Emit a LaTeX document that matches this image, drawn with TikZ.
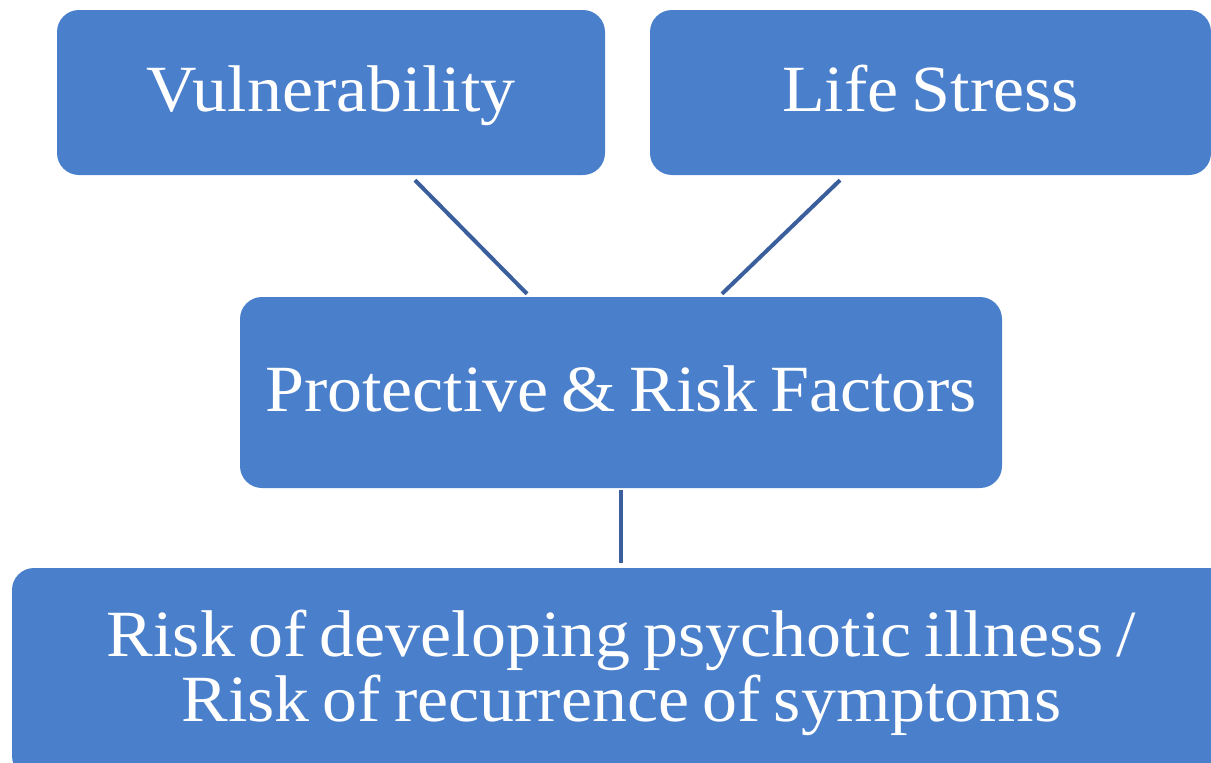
\documentclass[tikz,border=0pt]{standalone}
\usepackage{fontspec}
\setmainfont{Liberation Serif}[FakeStretch=1.06, WordSpace=0.75]
\usetikzlibrary{calc}
\definecolor{boxblue}{HTML}{4A7FCB}
\definecolor{lineblue}{HTML}{3A5F9C}
\tikzset{
  box/.style={draw=none, fill=boxblue, rounded corners=22pt, text=white, inner sep=0pt,
    font=\fontsize{66}{65}\selectfont, align=center},
  onel/.style={text height=48pt, text depth=11pt},
  conn/.style={draw=lineblue, line width=4pt}
}
\begin{document}
\begin{tikzpicture}[x=1pt,y=-1pt]
\clip (0,0) rectangle (1211,763);
\useasboundingbox (0,0) rectangle (1211,763);
\node[box, onel, minimum width=548pt, minimum height=165pt] (vul) at (331,92.5) {Vulnerability};
\node[box, onel, minimum width=561pt, minimum height=165pt] (life) at (930.5,92.5) {Life Stress};
\node[box, onel, minimum width=762pt, minimum height=191pt] (prot) at (621,392.5) {Protective \& Risk Factors};
\node[box, minimum width=1219pt, minimum height=210pt] (risk) at (621.5,673) {Risk of developing psychotic illness /\\Risk of recurrence of symptoms};
\draw[conn] ($(vul.south)+(84,5)$) -- ($(prot.north)+(-94,-3)$);
\draw[conn] ($(life.south)+(-90.5,5)$) -- ($(prot.north)+(101,-3)$);
\draw[conn] ($(prot.south)+(0,2)$) -- ($(risk.north)+(-0.5,-5)$);
\end{tikzpicture}
\end{document}
